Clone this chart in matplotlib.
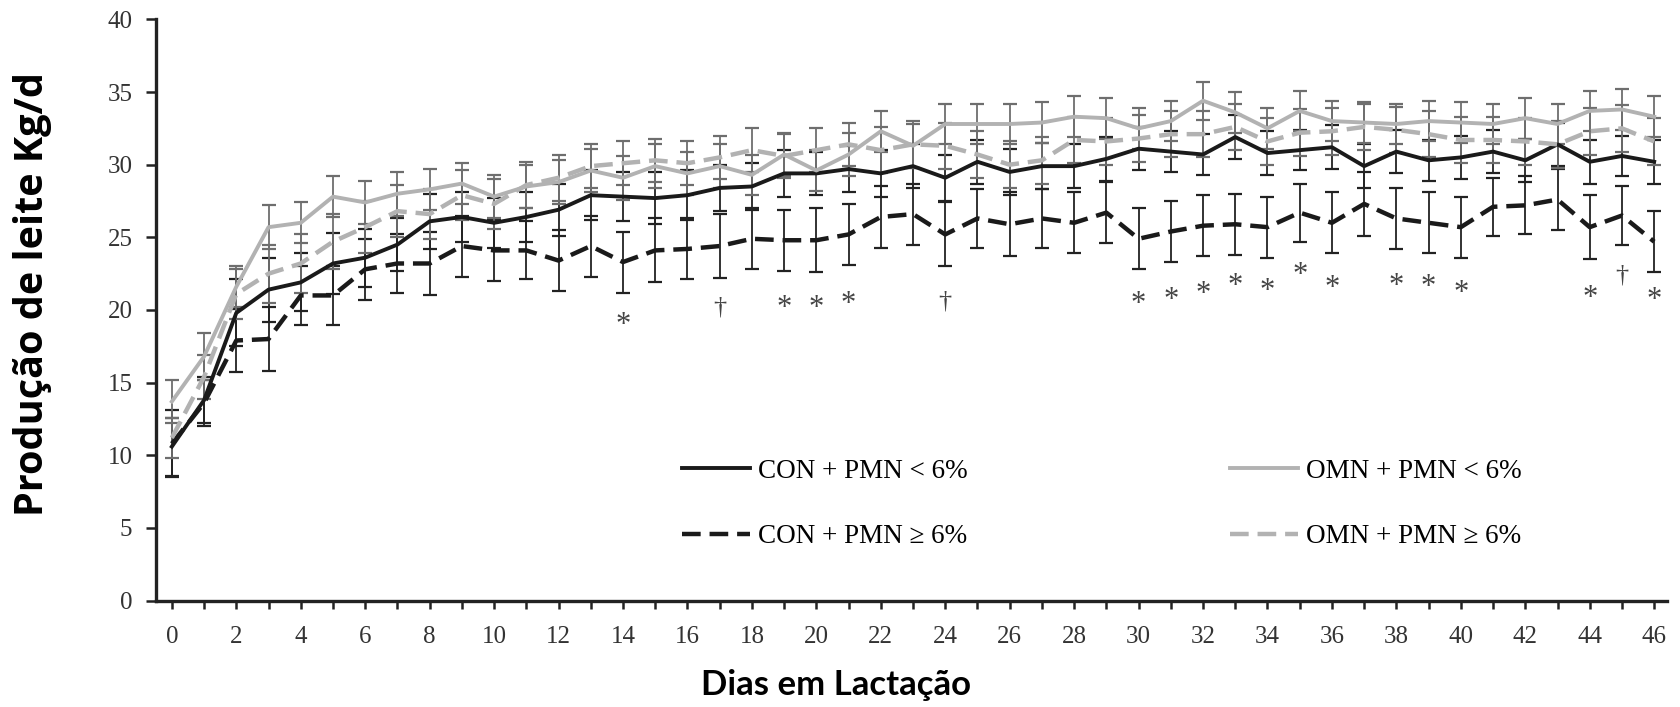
import matplotlib
matplotlib.use("Agg")
import matplotlib.pyplot as plt

# dias em lactação
dias = list(range(47))

con_lt6 = [10.6, 13.8, 19.8, 21.4, 21.9, 23.2, 23.6, 24.5, 26.1, 26.4, 26.0, 26.4, 26.9, 27.9, 27.8, 27.7,
           27.9, 28.4, 28.5, 29.4, 29.4, 29.7, 29.4, 29.9, 29.1, 30.2, 29.5, 29.9, 29.9, 30.4, 31.1, 30.9,
           30.7, 31.9, 30.8, 31.0, 31.2, 29.9, 30.9, 30.3, 30.5, 30.9, 30.3, 31.4, 30.2, 30.6, 30.2]
con_ge6 = [10.8, 13.6, 17.9, 18.0, 21.0, 21.0, 22.8, 23.2, 23.2, 24.4, 24.1, 24.1, 23.4, 24.4, 23.3, 24.1,
           24.2, 24.4, 24.9, 24.8, 24.8, 25.2, 26.4, 26.6, 25.2, 26.3, 25.9, 26.3, 26.0, 26.7, 24.9, 25.4,
           25.8, 25.9, 25.7, 26.7, 26.0, 27.3, 26.3, 26.0, 25.7, 27.1, 27.2, 27.6, 25.7, 26.5, 24.7]
omn_lt6 = [13.7, 16.8, 21.6, 25.7, 26.0, 27.8, 27.4, 28.0, 28.3, 28.7, 27.8, 28.5, 28.8, 29.6, 29.1, 29.9,
           29.4, 29.9, 29.3, 30.7, 29.6, 30.7, 32.3, 31.3, 32.8, 32.8, 32.8, 32.9, 33.3, 33.2, 32.5, 33.0,
           34.4, 33.6, 32.5, 33.7, 33.0, 32.9, 32.8, 33.0, 32.9, 32.8, 33.2, 32.8, 33.7, 33.8, 33.3]
omn_ge6 = [11.2, 15.4, 21.1, 22.5, 23.2, 24.7, 25.7, 26.8, 26.6, 27.9, 27.3, 28.6, 29.1, 29.9, 30.1, 30.3,
           30.1, 30.5, 31.0, 30.6, 31.0, 31.4, 31.0, 31.4, 31.3, 30.7, 30.0, 30.3, 31.7, 31.6, 31.8, 32.1,
           32.1, 32.6, 31.6, 32.2, 32.3, 32.6, 32.4, 32.1, 31.7, 31.7, 31.6, 31.4, 32.3, 32.5, 31.6]

# erro padrão
se_con_lt6 = [2.0, 1.6, 2.3, 2.2, 2.0, 2.1, 2.0, 1.8, 1.9, 1.7, 1.7, 1.7, 1.8, 1.7, 1.7, 1.8,
              1.7, 1.6, 1.6, 1.6, 1.5, 1.6, 1.6, 1.5, 1.6, 1.5, 1.6, 1.6, 1.5, 1.5, 1.5, 1.4,
              1.4, 1.5, 1.5, 1.4, 1.5, 1.5, 1.5, 1.4, 1.5, 1.5, 1.5, 1.5, 1.5, 1.4, 1.5]
se_con_ge6 = [2.3, 1.6, 2.2, 2.2, 2.0, 2.0, 2.1, 2.0, 2.2, 2.1, 2.1, 2.0, 2.1, 2.1, 2.1, 2.2,
              2.1, 2.2, 2.1, 2.1, 2.2, 2.1, 2.1, 2.1, 2.2, 2.0, 2.2, 2.0, 2.1, 2.1, 2.1, 2.1,
              2.1, 2.1, 2.1, 2.0, 2.1, 2.2, 2.1, 2.1, 2.1, 2.0, 2.0, 2.1, 2.2, 2.0, 2.1]
se_omn_lt6 = [1.5, 1.6, 1.4, 1.5, 1.4, 1.4, 1.5, 1.5, 1.4, 1.4, 1.5, 1.5, 1.5, 1.5, 1.5, 1.5,
              1.5, 1.5, 1.4, 1.5, 1.4, 1.5, 1.4, 1.5, 1.4, 1.4, 1.4, 1.4, 1.4, 1.4, 1.4, 1.4,
              1.3, 1.4, 1.4, 1.4, 1.4, 1.4, 1.4, 1.4, 1.4, 1.4, 1.4, 1.4, 1.4, 1.4, 1.4]
se_omn_ge6 = [1.4, 1.5, 1.7, 2.0, 2.0, 1.9, 1.8, 1.8, 1.7, 1.7, 1.7, 1.6, 1.6, 1.5, 1.5, 1.5,
              1.5, 1.5, 1.5, 1.5, 1.5, 1.5, 1.6, 1.6, 1.6, 1.6, 1.6, 1.6, 1.6, 1.6, 1.6, 1.6,
              1.6, 1.6, 1.6, 1.6, 1.6, 1.6, 1.6, 1.6, 1.6, 1.6, 1.6, 1.6, 1.6, 1.6, 1.6]

# marcas de significância
ast_dias = [14, 19, 20, 21, 30, 31, 32, 33, 34, 35, 36, 38, 39, 40, 44, 46]
ast_y = [19.5, 20.65, 20.65, 20.9, 20.9, 21.2, 21.6, 22.15, 21.85, 22.95, 22.05, 22.15, 22.1, 21.7, 21.35, 21.2]
cruz_dias = [17, 24, 45]
cruz_y = [20.2, 20.6, 22.35]

labels = ["CON + PMN < 6%", "CON + PMN \u2265 6%", "OMN + PMN < 6%", "OMN + PMN \u2265 6%"]

preto = "#1a1a1a"
cinza = "#b2b2b2"
serif = ["Liberation Serif", "DejaVu Serif"]

fig = plt.figure(figsize=(16.8, 7.07), dpi=100)
ax = fig.add_axes([0.0929, 0.1505, 0.8994, 0.8221])

series = [
    (con_lt6, se_con_lt6, preto, "#222222", "-", labels[0]),
    (con_ge6, se_con_ge6, preto, "#222222", "--", labels[1]),
    (omn_lt6, se_omn_lt6, cinza, "#6e6e6e", "-", labels[2]),
    (omn_ge6, se_omn_ge6, cinza, "#6e6e6e", "--", labels[3]),
]

for vals, se, cor, cor_err, ls, lab in series:
    ax.errorbar(dias, vals, yerr=se, fmt="none", ecolor=cor_err, elinewidth=1.3,
                capsize=5, capthick=1.6, zorder=2)

handles = []
for vals, se, cor, cor_err, ls, lab in series:
    if ls == "--":
        h, = ax.plot(dias, vals, color=cor, lw=3.2, dashes=(4.2, 2.0), label=lab, zorder=3)
    else:
        h, = ax.plot(dias, vals, color=cor, lw=2.8, label=lab, zorder=3)
    handles.append(h)

for d, y in zip(ast_dias, ast_y):
    ax.text(d, y - 0.55, "*", ha="center", va="center", fontsize=22, color="#444444", family=serif)
for d, y in zip(cruz_dias, cruz_y):
    ax.text(d, y, "\u2020", ha="center", va="center", fontsize=19, color="#444444", family=serif)

ax.set_xlim(-0.49, 46.4)
ax.set_ylim(0, 40)
ax.set_xticks(dias, minor=True)
ax.set_xticks(range(0, 47, 2))
ax.set_yticks(range(0, 41, 5))

for s in ["top", "right"]:
    ax.spines[s].set_visible(False)
for s in ["left", "bottom"]:
    ax.spines[s].set_linewidth(2.4)
    ax.spines[s].set_color("#222222")

ax.tick_params(axis="both", which="both", direction="out", width=1.8, color="#222222")
ax.tick_params(axis="y", length=7, pad=10)
ax.tick_params(axis="x", which="both", length=6, pad=12)
for lab in ax.get_xticklabels() + ax.get_yticklabels():
    lab.set_family(serif)
    lab.set_fontsize(18)
    lab.set_color("#333333")

ax.set_xlabel("Dias em Lactação", fontsize=25, fontweight="bold", family="Lato")
ax.xaxis.set_label_coords(0.45, -0.118)
ax.set_ylabel("Produção de leite Kg/d", fontsize=28.5, fontweight="bold", family="Open Sans")
ax.yaxis.set_label_coords(-0.069, 0.528)

ax.legend(handles=handles, ncol=2, loc="upper left", bbox_to_anchor=(0.348, 0.244),
          frameon=False, prop={"family": serif, "size": 19.5}, handlelength=2.5,
          handletextpad=0.3, columnspacing=9.7, labelspacing=1.5, borderpad=0,
          borderaxespad=0)

fig.savefig("out.png", dpi=100)
